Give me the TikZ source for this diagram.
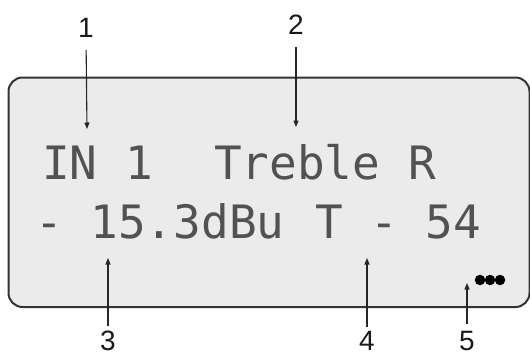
\documentclass[tikz,border=0pt]{standalone}
\usepackage{fontspec}
\setmainfont{Liberation Sans}
\newfontfamily\lcdfont{DejaVu Sans Mono}
\usetikzlibrary{arrows.meta}
\begin{document}
\begin{tikzpicture}[x=1pt,y=-1pt,
  lcd/.style={anchor=base west, inner sep=0pt, font=\lcdfont\fontsize{46}{46}\selectfont, text=black!68},
  callout/.style={anchor=base, inner sep=0pt, font=\fontsize{28}{28}\selectfont, text=black!90},
  pointer/.style={draw=black!85, line width=1.1pt, -{Triangle[length=6.5pt,width=5pt]}},
  panel/.style={draw=black!80, line width=2pt, fill=black!8, rounded corners=14pt, inner sep=0pt},
  led/.style={circle, fill=black, inner sep=0pt, minimum size=10.5pt}]
\useasboundingbox (0,0) rectangle (530,356);
\node[panel, minimum width=521pt, minimum height=229.5pt] (screen) at (269,192.25) {};

\node[lcd] (in1) at (42,179) {IN 1};
\node[lcd] (treble) at (214,179) {Treble R};
\node[lcd] (level) at (35,238) {- 15.3dBu};
\node[lcd] (trim) at (315,238) {T - 54};

\node[led] (d1) at (480,280) {};
\node[led] (d2) at (490,280) {};
\node[led] (d3) at (500,280) {};

\node[callout] (c1) at (86,37) {1};
\node[callout] (c2) at (296,34) {2};
\node[callout] (c3) at (108,350) {3};
\node[callout] (c4) at (367,350) {4};
\node[callout] (c5) at (467,350) {5};

\coordinate (p1) at (87,129);
\coordinate (p2) at (296,127);
\coordinate (p3) at (108,258);
\coordinate (p4) at (367,258);
\coordinate (p5) at (467,283);

\draw[pointer, shorten <=13pt] (c1.south) -- (p1);
\draw[pointer, shorten <=13pt] (c2.south) -- (p2);
\draw[pointer, shorten <=4pt] (c3.north) -- (p3);
\draw[pointer, shorten <=4pt] (c4.north) -- (p4);
\draw[pointer, shorten <=7pt] (c5.north) -- (p5);
\end{tikzpicture}
\end{document}
